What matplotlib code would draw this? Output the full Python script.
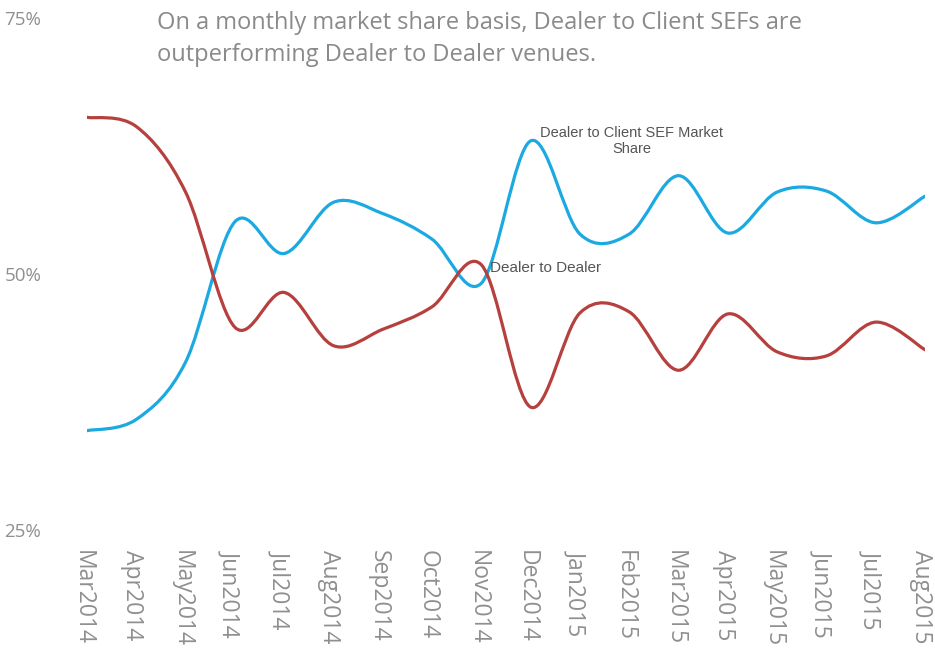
import numpy as np
import matplotlib
matplotlib.use("Agg")
import matplotlib.pyplot as plt
import matplotlib.transforms as mtransforms
from matplotlib.path import Path
from matplotlib.patches import PathPatch

# Monatsbeschriftungen und Marktanteile (in %)
months = ["Mar2014", "Apr2014", "May2014", "Jun2014", "Jul2014", "Aug2014",
          "Sep2014", "Oct2014", "Nov2014", "Dec2014", "Jan2015", "Feb2015",
          "Mar2015", "Apr2015", "May2015", "Jun2015", "Jul2015", "Aug2015"]
d2c_share = [34.7, 35.8, 41.4, 55.1, 52.0, 57.0, 55.9, 53.4, 49.1, 63.0,
             53.9, 53.9, 59.6, 54.0, 58.0, 58.1, 55.0, 57.6]
d2d_share = [65.3, 64.4, 58.0, 44.8, 48.2, 43.0, 44.6, 46.8, 50.9, 37.0,
             46.2, 46.3, 40.6, 46.1, 42.4, 42.0, 45.3, 42.6]
y_ticks = [25, 50, 75]

title = ("On a monthly market share basis, Dealer to Client SEFs are\n"
         "outperforming Dealer to Dealer venues.")

BLUE = "#1ba9e1"
RED = "#b5403d"
GREY = "#8f8f8f"
FONT = ["Open Sans", "DejaVu Sans"]
NARROW = ["Liberation Sans Narrow", "Liberation Sans"]


def smooth_path(x, y):
    # Catmull-Rom -> kubische Bezier-Segmente
    pts = np.column_stack([x, y]).astype(float)
    verts = [pts[0]]
    codes = [Path.MOVETO]
    n = len(pts)
    for i in range(n - 1):
        p0 = pts[i - 1] if i > 0 else pts[i]
        p1 = pts[i]
        p2 = pts[i + 1]
        p3 = pts[i + 2] if i + 2 < n else pts[i + 1]
        c1 = p1 + (p2 - p0) / 6.0
        c2 = p2 - (p3 - p1) / 6.0
        verts += [c1, c2, p2]
        codes += [Path.CURVE4] * 3
    return Path(verts, codes)


fig = plt.figure(figsize=(9.35, 6.67), dpi=100)
ax = fig.add_axes([87 / 935, 1 - 530 / 667, (925 - 87) / 935, (530 - 18) / 667])

x = np.arange(len(months))
for values, color in [(d2c_share, BLUE), (d2d_share, RED)]:
    patch = PathPatch(smooth_path(x, values), facecolor="none", edgecolor=color,
                      lw=2.3, capstyle="round", joinstyle="round")
    ax.add_patch(patch)

ax.set_xlim(0, len(months) - 1)
ax.set_ylim(25, 75)
ax.set_yticks(y_ticks)
ax.set_yticklabels([f"{v}%" for v in y_ticks], color=GREY, fontsize=13.5,
                   family=FONT)
ax.tick_params(axis="y", length=0, pad=33)
ax.set_xticks([])
for s in ax.spines.values():
    s.set_visible(False)

# Monatsbeschriftungen, etwas links vom Datenpunkt
lbl_trans = ax.get_xaxis_transform() + mtransforms.ScaledTranslation(
    -4 / 100, -20 / 100, fig.dpi_scale_trans)
for xi, m in zip(x, months):
    ax.text(xi, 0, m, transform=lbl_trans, rotation=270, ha="center", va="top",
            color=GREY, fontsize=16.5, family=FONT, clip_on=False)

fig.text(157 / 935, 1 - 11 / 667, title, ha="left", va="top", color="#8a8a8a",
         fontsize=17, linespacing=1.45, family=FONT)

ax.text(11.05, 63.0, "Dealer to Client SEF Market\nShare", ha="center",
        va="center", fontsize=10.5, color="#555555", linespacing=1.25,
        family=NARROW)
ax.text(8.17, 50.6, "Dealer to Dealer", ha="left", va="center", fontsize=11,
        color="#555555", family=NARROW)

fig.savefig("out.png", dpi=100)
